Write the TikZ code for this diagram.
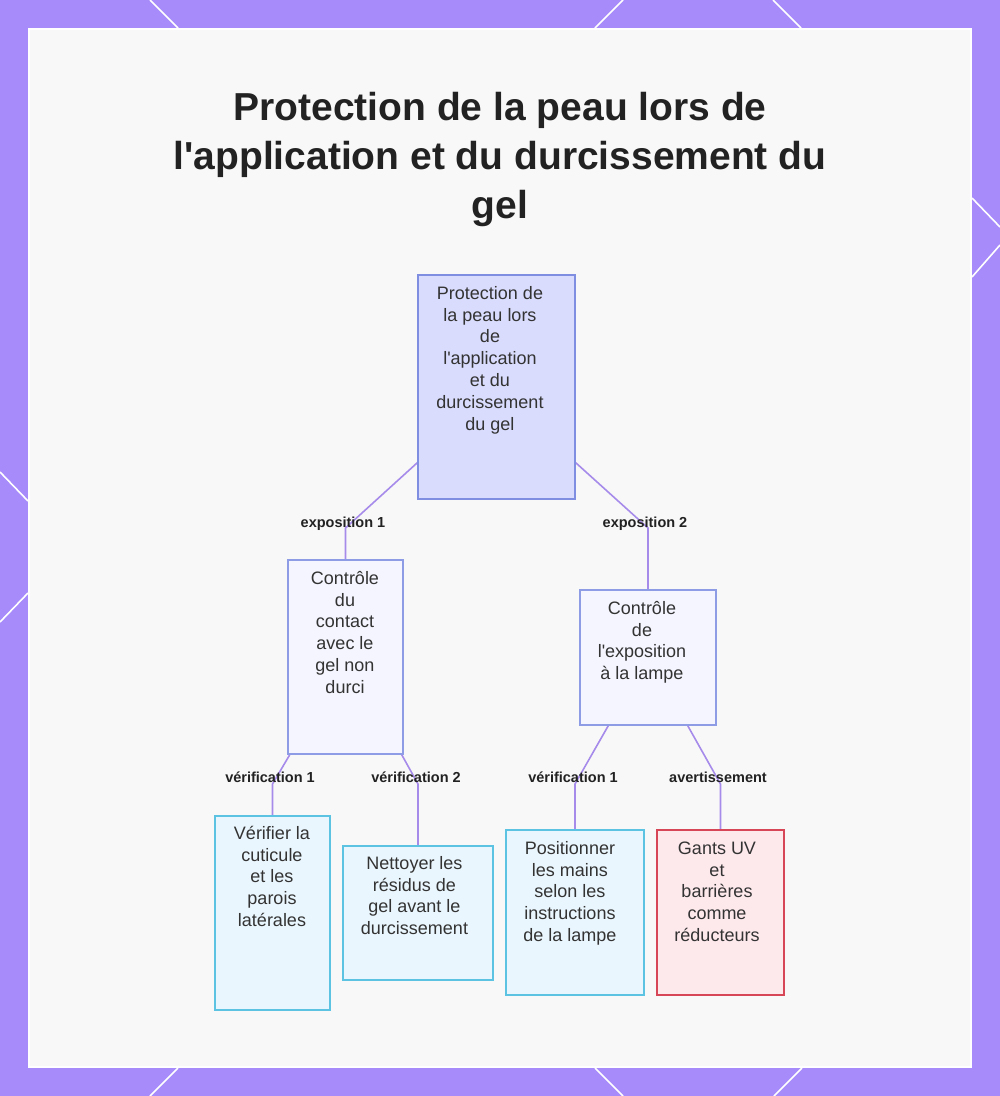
\documentclass[tikz,border=0pt]{standalone}
\usepackage{fontspec}
\newfontfamily\mainf{Liberation Sans}
\definecolor{framec}{HTML}{A78BFA}
\definecolor{panelc}{HTML}{F8F8F8}
\definecolor{connc}{HTML}{A78BEB}
\definecolor{rootf}{HTML}{D9DCFC}
\definecolor{rootd}{HTML}{7F8EE0}
\definecolor{midf}{HTML}{F4F5FE}
\definecolor{midd}{HTML}{8E9CE6}
\definecolor{leaff}{HTML}{EAF6FD}
\definecolor{leafd}{HTML}{5CC3E2}
\definecolor{warnf}{HTML}{FDE8EC}
\definecolor{warnd}{HTML}{D64657}
\definecolor{txtc}{HTML}{333333}
\definecolor{lblc}{HTML}{222222}
\pgfdeclarelayer{bg}
\pgfdeclarelayer{links}
\pgfsetlayers{bg,links,main}
\tikzset{
  conn/.style={draw=connc, line width=1.6pt},
  boxbase/.style={rectangle, inner sep=0pt, line width=1.5pt},
  rootbox/.style={boxbase, draw=rootd, fill=rootf},
  midbox/.style={boxbase, draw=midd, fill=midf},
  leafbox/.style={boxbase, draw=leafd, fill=leaff},
  warnbox/.style={boxbase, draw=warnd, fill=warnf},
  ntext/.style={anchor=north, inner sep=0pt, align=center, text=txtc,
    font=\mainf\fontsize{18}{21.8}\selectfont},
  elabel/.style={inner sep=0pt, text=lblc, text height=11pt, text depth=3pt,
    font=\mainf\bfseries\fontsize{14.5}{17}\selectfont},
  deco/.style={draw=white, line width=1.6pt},
}
\begin{document}
\begin{tikzpicture}[x=1pt,y=-1pt]
\useasboundingbox (0,0) rectangle (1000,1096);
\begin{pgfonlayer}{bg}
% frame
\fill[framec] (0,0) rectangle (1000,1096);
\draw[deco] (150,0) -- (178,28);
\draw[deco] (623,0) -- (595,28);
\draw[deco] (773,0) -- (801,28);
\draw[deco] (972,198) -- (1000,227);
\draw[deco] (1000,245) -- (972,277);
\draw[deco] (0,472) -- (28,501);
\draw[deco] (28,593) -- (0,622);
\draw[deco] (178,1068) -- (150,1096);
\draw[deco] (595,1068) -- (623,1096);
\draw[deco] (802,1068) -- (774,1096);
\fill[white] (28,28) rectangle (972,1068);
\fill[panelc] (30,30) rectangle (970,1066);
\end{pgfonlayer}
% title
\node[anchor=north, inner sep=0pt, align=center, text=lblc,
  font=\mainf\bfseries\fontsize{39}{49}\selectfont] (title) at (500,90.5)
  {\rule{0pt}{30pt}Protection de la peau lors de\\l'application et du durcissement du\\gel};
% boxes
\node[rootbox, minimum width=157pt, minimum height=224pt] (root) at (496.5,387) {};
\node[midbox, minimum width=115pt, minimum height=194pt] (lm) at (345.5,657) {};
\node[midbox, minimum width=136pt, minimum height=135pt] (rm) at (648,657.5) {};
\node[leafbox, minimum width=115pt, minimum height=194pt] (l1) at (272.5,913) {};
\node[leafbox, minimum width=150pt, minimum height=134pt] (l2) at (418,913) {};
\node[leafbox, minimum width=138pt, minimum height=165pt] (l3) at (575,912.5) {};
\node[warnbox, minimum width=127pt, minimum height=165pt] (l4) at (720.5,912.5) {};
% connectors
\coordinate (e1) at (345.5,528);
\coordinate (e2) at (648,528);
\coordinate (e3) at (272.5,784);
\coordinate (e4) at (418,784);
\coordinate (e5) at (575,784);
\coordinate (e6) at (720.5,784);
\begin{pgfonlayer}{links}
\draw[conn] ([yshift=37pt]root.south west) -- (e1) -- (lm.north);
\draw[conn] ([yshift=37pt]root.south east) -- (e2) -- (rm.north);
\draw[conn] ([xshift=2.5pt]lm.south west) -- (e3) -- (l1.north);
\draw[conn] ([xshift=-2pt]lm.south east) -- (e4) -- (l2.north);
\draw[conn] ([xshift=29pt]rm.south west) -- (e5) -- (l3.north);
\draw[conn] ([xshift=-29pt]rm.south east) -- (e6) -- (l4.north);
\end{pgfonlayer}
% texts
\node[ntext] (roott) at (490,282) {\rule{0pt}{17pt}Protection de\\la peau lors\\de\\l'application\\et du\\durcissement\\du gel};
\node[ntext] (lmt) at (345,567) {\rule{0pt}{17pt}Contrôle\\du\\contact\\avec le\\gel non\\durci};
\node[ntext] (rmt) at (642,597) {\rule{0pt}{17pt}Contrôle\\de\\l'exposition\\à la lampe};
\node[ntext] (l1t) at (272,822) {\rule{0pt}{17pt}Vérifier la\\cuticule\\et les\\parois\\latérales};
\node[ntext] (l2t) at (414.5,852) {\rule{0pt}{17pt}Nettoyer les\\résidus de\\gel avant le\\durcissement};
\node[ntext] (l3t) at (570,837) {\rule{0pt}{17pt}Positionner\\les mains\\selon les\\instructions\\de la lampe};
\node[ntext] (l4t) at (717,837) {\rule{0pt}{17pt}Gants UV\\et\\barrières\\comme\\réducteurs};
% edge labels
\node[elabel] (lab1) at (343,523) {exposition 1};
\node[elabel] (lab2) at (645,523) {exposition 2};
\node[elabel] (lab3) at (270,778) {vérification 1};
\node[elabel] (lab4) at (416,778) {vérification 2};
\node[elabel] (lab5) at (573,778) {vérification 1};
\node[elabel] (lab6) at (718,778) {avertissement};
\end{tikzpicture}
\end{document}
